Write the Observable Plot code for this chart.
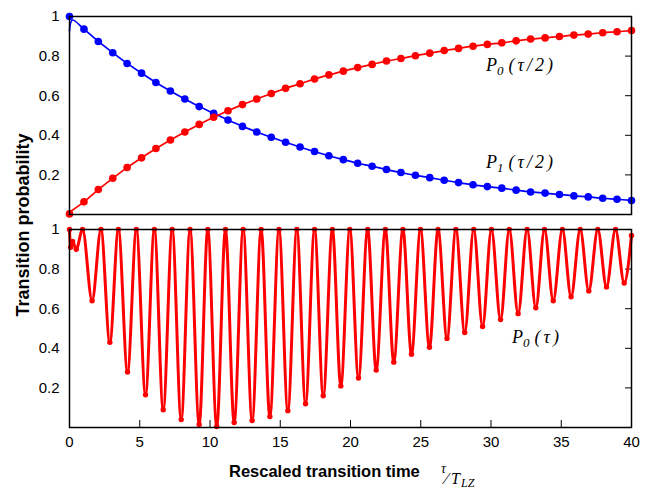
<!DOCTYPE html>
<html>
<head>
<meta charset="utf-8">
<script src="https://cdn.jsdelivr.net/npm/d3@7"></script>
<script src="https://cdn.jsdelivr.net/npm/@observablehq/plot@0.6"></script>
<style>
  html, body { margin: 0; padding: 0; background: #fff; }
  #wrap { position: relative; width: 654px; height: 489px; overflow: hidden; }
  .panel { position: absolute; left: 0; }
  #overlay { position: absolute; left: 0; top: 0; pointer-events: none; }
</style>
</head>
<body>
<div id="wrap">
  <div id="top" class="panel" style="top:0px"></div>
  <div id="bottom" class="panel" style="top:222px"></div>
</div>
<script>
// ---------- data ----------
const xTicks = [0, 5, 10, 15, 20, 25, 30, 35, 40];
const yTicks = [0.2, 0.4, 0.6, 0.8, 1];
const rightTicks = [0.2, 0.4, 0.6, 0.8];

// top panel: sampled times (markers) and values
const halfTimes = [0, 1.03, 2.05, 3.08, 4.10, 5.13, 6.15, 7.18, 8.21, 9.23,
  10.26, 11.28, 12.31, 13.33, 14.36, 15.38, 16.41, 17.44, 18.46, 19.49,
  20.51, 21.54, 22.56, 23.59, 24.62, 25.64, 26.67, 27.69, 28.72, 29.74,
  30.77, 31.79, 32.82, 33.85, 34.87, 35.90, 36.92, 37.95, 38.97, 40];
const p1Half = [1.000, 0.936, 0.874, 0.817, 0.763, 0.714, 0.667, 0.624, 0.583, 0.545,
  0.511, 0.477, 0.445, 0.417, 0.390, 0.365, 0.341, 0.318, 0.297, 0.277,
  0.259, 0.244, 0.227, 0.212, 0.198, 0.186, 0.173, 0.161, 0.150, 0.141,
  0.133, 0.123, 0.114, 0.108, 0.101, 0.094, 0.089, 0.082, 0.077, 0.071];
const p0Half = [0.003, 0.064, 0.126, 0.183, 0.237, 0.286, 0.333, 0.376, 0.417, 0.455,
  0.491, 0.524, 0.555, 0.583, 0.611, 0.637, 0.660, 0.684, 0.705, 0.724,
  0.742, 0.758, 0.775, 0.788, 0.802, 0.815, 0.828, 0.839, 0.850, 0.859,
  0.867, 0.877, 0.886, 0.892, 0.899, 0.906, 0.911, 0.918, 0.923, 0.929];
// start of the continuous curves (before the first marker interval)
const p1CurveStartT = [0, 0.21];
const p1CurveStartV = [0.928, 0.982];
const p0CurveStartT = [0];
const p0CurveStartV = [0.012];

// bottom panel: P0(tau) turning points
const p0Times = [0, 0.08, 0.22, 0.48, 0.93,
  1.61, 2.24, 2.87, 3.48, 4.13, 4.76, 5.41, 6.04, 6.67, 7.31, 7.95, 8.58, 9.23, 9.84,
  10.48, 11.1, 11.72, 12.36, 13.0, 13.64, 14.26, 14.91, 15.54, 16.18, 16.8, 17.44,
  18.06, 18.71, 19.31, 19.95, 20.57, 21.22, 21.83, 22.48, 23.08, 23.73, 24.34, 24.98,
  25.62, 26.23, 26.87, 27.5, 28.13, 28.77, 29.4, 30.03, 30.68, 31.3, 31.93, 32.57,
  33.19, 33.81, 34.43, 35.08, 35.7, 36.35, 36.96, 37.6, 38.22, 38.86, 39.48, 40];
const p0Values = [1, 0.91, 0.94, 0.90, 1,
  0.64, 1, 0.43, 1, 0.28, 1, 0.165, 1, 0.09, 1, 0.04, 1, 0.015, 1,
  0.005, 1, 0.025, 1, 0.035, 1, 0.055, 1, 0.085, 1, 0.12, 1,
  0.16, 1, 0.21, 1, 0.25, 1, 0.29, 1, 0.33, 1, 0.37, 1,
  0.405, 1, 0.45, 1, 0.48, 1, 0.51, 1, 0.545, 1, 0.575, 1,
  0.605, 1, 0.64, 1, 0.66, 1, 0.69, 1, 0.71, 1, 0.73, 0.97];

// ---------- tables ----------
const zip = (ts, vs) => ts.map((t, i) => ({t, v: vs[i]}));
const p1Dots = zip(halfTimes, p1Half);
const p0Dots = zip(halfTimes, p0Half);
const p1Curve = zip(p1CurveStartT, p1CurveStartV).concat(p1Dots.slice(1));
const p0Curve = zip(p0CurveStartT, p0CurveStartV).concat(p0Dots.slice(1));
const p0Full = zip(p0Times, p0Values);

const RED = "#ff0000", BLUE = "#0000ff";
const fmt = d => (d === 1 ? "1" : d.toFixed(1));
const style = {
  fontFamily: '"Liberation Sans", Arial, sans-serif',
  fontSize: "15px",
  color: "#000",
  background: "transparent",
  overflow: "visible"
};

const topPlot = Plot.plot({
  width: 654, height: 222,
  marginLeft: 69, marginRight: 23, marginTop: 16, marginBottom: 8,
  style,
  x: {domain: [0, 40], axis: null},
  y: {domain: [0, 1]},
  marks: [
    Plot.axisY(yTicks, {tickSize: 0, tickPadding: 10, tickFormat: fmt, label: null}),
    Plot.axisY(rightTicks, {anchor: "right", tickSize: -7, fill: "none", label: null}),
    Plot.line(p1Curve, {x: "t", y: "v", stroke: BLUE, strokeWidth: 1.7, curve: "catmull-rom"}),
    Plot.line(p0Curve, {x: "t", y: "v", stroke: RED, strokeWidth: 1.7, curve: "catmull-rom"}),
    Plot.dot(p1Dots, {x: "t", y: "v", r: 3.8, fill: BLUE, stroke: "none"}),
    Plot.dot(p0Dots, {x: "t", y: "v", r: 3.8, fill: RED, stroke: "none"}),
    Plot.frame({stroke: "#000", strokeWidth: 1.5})
  ]
});

const bottomPlot = Plot.plot({
  width: 654, height: 267,
  marginLeft: 69, marginRight: 23, marginTop: 7, marginBottom: 62,
  style,
  x: {domain: [0, 40]},
  y: {domain: [0, 1]},
  marks: [
    Plot.axisY(yTicks, {tickSize: 0, tickPadding: 10, tickFormat: fmt, label: null}),
    Plot.axisY(rightTicks, {anchor: "right", tickSize: -7, fill: "none", label: null}),
    Plot.axisX(xTicks, {tickSize: -7, fill: "none", label: null}),
    Plot.axisX(xTicks, {tickSize: 0, tickPadding: 9, label: null}),
    Plot.line(p0Full, {x: "t", y: "v", stroke: RED, strokeWidth: 3, curve: "monotone-x"}),
    Plot.dot(p0Full, {x: "t", y: "v", r: 2.7, fill: RED, stroke: "none"}),
    Plot.frame({stroke: "#000", strokeWidth: 1.5})
  ]
});

document.getElementById("top").appendChild(topPlot);
document.getElementById("bottom").appendChild(bottomPlot);

// ---------- text overlay ----------
const svg = d3.select("#wrap").append("svg")
  .attr("id", "overlay").attr("width", 654).attr("height", 489);

const serif = '"Liberation Serif", "DejaVu Serif", serif';
const sans = '"Liberation Sans", Arial, sans-serif';

function pLabel(x, y, sub, arg) {
  const t = svg.append("text").attr("x", x).attr("y", y)
    .attr("font-family", serif).attr("font-style", "italic").attr("font-size", 18);
  t.append("tspan").text("P");
  t.append("tspan").attr("dy", 4).attr("font-size", 13).text(sub);
  t.append("tspan").attr("dy", -4).attr("dx", 5).attr("letter-spacing", 3).text(arg);
}
pLabel(486, 70.5, "0", "(τ/2)");
pLabel(486, 168, "1", "(τ/2)");
pLabel(512, 343, "0", "(τ)");

// y axis title
svg.append("text")
  .attr("transform", "translate(28.5,225) rotate(-90)")
  .attr("text-anchor", "middle")
  .attr("font-family", sans).attr("font-weight", "bold").attr("font-size", 18)
  .text("Transition probability");

// x axis title
svg.append("text").attr("x", 229).attr("y", 476.5)
  .attr("font-family", sans).attr("font-weight", "bold").attr("font-size", 16.5)
  .text("Rescaled transition time");
svg.append("text").attr("x", 441).attr("y", 473)
  .attr("font-family", serif).attr("font-style", "italic").attr("font-size", 14).text("τ");
svg.append("text").attr("x", 445).attr("y", 484)
  .attr("font-family", serif).attr("font-size", 17).text("⁄");
svg.append("text").attr("x", 451).attr("y", 483.5)
  .attr("font-family", serif).attr("font-style", "italic").attr("font-size", 16).text("T");
svg.append("text").attr("x", 461).attr("y", 487)
  .attr("font-family", serif).attr("font-style", "italic").attr("font-size", 12).text("LZ");
</script>
</body>
</html>
